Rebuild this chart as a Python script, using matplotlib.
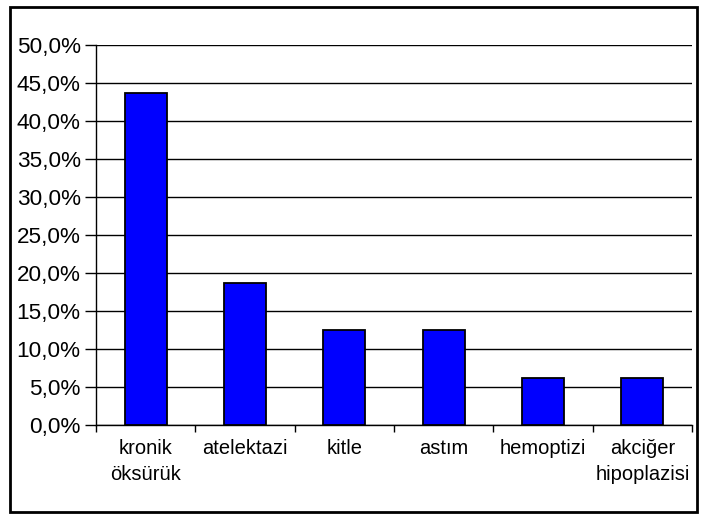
import matplotlib
matplotlib.use("Agg")
import matplotlib.pyplot as plt
from matplotlib.ticker import FuncFormatter, MultipleLocator
from matplotlib.patches import Rectangle

categories = ["kronik\nöksürük", "atelektazi", "kitle", "astım", "hemoptizi", "akciğer\nhipoplazisi"]
values = [43.75, 18.75, 12.5, 12.5, 6.25, 6.25]

plt.rcParams['font.family'] = ['Liberation Sans', 'DejaVu Sans']

fig = plt.figure(figsize=(7.01, 5.14), dpi=100)
W, H = 701, 514
ax = fig.add_axes([96 / W, 1 - 425 / H, (692 - 96) / W, (425 - 45) / H])

x = list(range(len(categories)))
ax.bar(x, values, width=0.42, color="#0000FF", edgecolor="black", linewidth=1.3, zorder=3)

ax.set_xlim(-0.5, len(categories) - 0.5)
ax.set_ylim(0, 50)
ax.yaxis.set_major_locator(MultipleLocator(5))
ax.yaxis.set_major_formatter(FuncFormatter(lambda v, p: f"{v:.1f}%".replace(".", ",")))
ax.grid(axis="y", color="black", linewidth=1.0, zorder=0)
ax.set_axisbelow(True)

ax.set_xticks([i + 0.5 for i in range(-1, len(categories))], minor=False)
ax.set_xticklabels([])
ax.set_xticks(x, minor=True)
ax.set_xticklabels(categories, minor=True, fontsize=14.5, linespacing=1.45)
ax.tick_params(axis="x", which="minor", length=0, pad=10)
ax.tick_params(axis="x", which="major", length=5, width=1, direction="out", color="black")
ax.tick_params(axis="y", length=8, width=1, direction="out", labelsize=16.2, pad=3)

for s in ["top", "right"]:
    ax.spines[s].set_visible(False)
ax.spines["left"].set_linewidth(1.0)
ax.spines["bottom"].set_linewidth(1.0)

fig.patches.append(Rectangle((10 / W, 1 - 512 / H), (697 - 10) / W, (512 - 7) / H,
                             transform=fig.transFigure, fill=False, edgecolor="black", linewidth=2))

fig.savefig("out.png", dpi=100)
